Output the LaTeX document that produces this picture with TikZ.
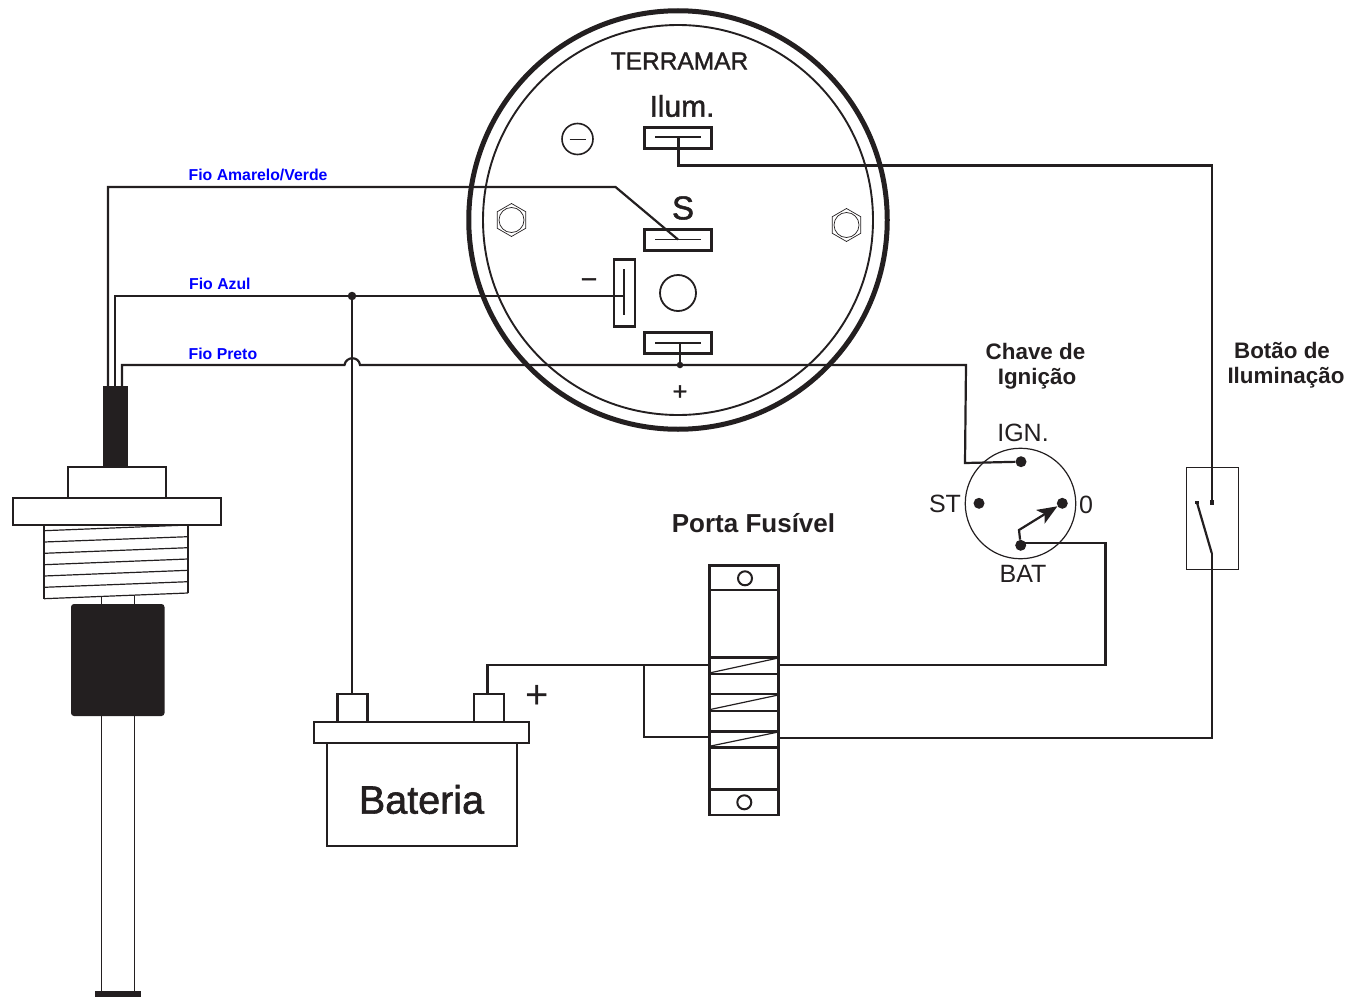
\documentclass[tikz,border=0pt]{standalone}
\usepackage{xcolor}
\usepackage{fontspec}
\setmainfont{Liberation Sans}
\newfontfamily\heavyfont[FakeBold=1.5]{Liberation Sans}
\usetikzlibrary{shapes, arrows.meta, calc}
\definecolor{ink}{HTML}{231F20}
\newcommand{\sz}[1]{\fontsize{#1}{#1}\selectfont}

\begin{document}
\begin{tikzpicture}[x=1pt, y=-1pt, ink,
    wire/.style={line width=2.2pt},
    thinline/.style={line width=1.2pt},
    terminal/.style={draw, rectangle, line width=2.2pt, minimum width=67pt, minimum height=21pt, inner sep=0pt},
    blade/.style={line width=1.8pt},
    dotnode/.style={circle, fill=ink, inner sep=0pt, minimum size=#1},
    hexnut/.style={draw, regular polygon, regular polygon sides=6, shape border rotate=30, line width=0.7pt, minimum size=33pt, inner sep=0pt},
    hole/.style={draw, circle, inner sep=0pt, minimum size=#1},
    bluelabel/.style={blue, font=\sz{15.8}\bfseries, anchor=base west, inner sep=0pt},
    title/.style={font=\sz{22.4}\bfseries, inner sep=0pt},
    pinlabel/.style={font=\sz{25}, inner sep=0pt},
    post/.style={draw, rectangle, line width=2.2pt, minimum width=30pt, minimum height=28pt, inner sep=0pt},
    fuseclip/.style={line width=2.4pt}
  ]

  \useasboundingbox (0,0) rectangle (1349,998);

  % gauge body
  \node[hole=418.5pt, line width=5pt] (ring) at (678,220) {};
  \node[hole=390pt, line width=1.9pt] (face) at (678,220) {};
  \node[font=\heavyfont\sz{24.5}, inner sep=0pt] (brand) at (679.5,61) {TERRAMAR};
  \node[font=\heavyfont\sz{30}, inner sep=0pt] (ilumlabel) at (682,106) {Ilum.};
  \node[font=\heavyfont\sz{33}, inner sep=0pt] (slabel) at (683,208) {S};
  \node[font=\heavyfont\sz{25}, inner sep=0pt] (minuslabel) at (589,282) {–};
  \node[font=\heavyfont\sz{25}, inner sep=0pt] (pluslabel) at (680,392.5) {+};

  % holes and nuts
  \node[hole=31pt, line width=1.6pt] (minushole) at (577.5,139) {};
  \draw[line width=0.8pt] ($ (minushole) + (-8,0) $) -- ($ (minushole) + (8,0) $);
  \node[hole=36pt, line width=1.8pt] (centerhole) at (678,293) {};
  \node[hexnut] (leftnut) at (511.5,220) {};
  \node[hole=25pt, line width=0.7pt] (leftnutin) at (511.5,220) {};
  \node[hexnut] (rightnut) at (846.5,225) {};
  \node[hole=25pt, line width=0.7pt] (rightnutin) at (846.5,225) {};

  % terminals
  \node[terminal] (ilum) at (678,138) {};
  \node[terminal] (sterm) at (678,240) {};
  \node[terminal] (plus) at (678,343) {};
  \node[terminal, minimum width=21pt, minimum height=67pt] (minus) at (624.7,293) {};
  \draw[blade] (655,137) -- (701,137);
  \draw[blade] (655,239.5) -- (701,239.5);
  \draw[blade] (655,343) -- (701,343);
  \draw[blade] (624,269) -- (624,315);

  % sensor
  \draw[draw=none, fill=ink] (103,386) rectangle (128,467);
  \draw[thinline] (68,498) rectangle (166,467);
  \draw[thinline] (13,498) rectangle (221,525);
  \draw[thinline] (44,525) -- (44,598.7);
  \draw[thinline] (188,525) -- (188,593);
  \draw[thinline] (44,530.7) -- (188,525);
  \draw[thinline] (44,542) -- (188,536.7);
  \draw[thinline] (44,553.3) -- (188,547.7);
  \draw[thinline] (44,564.7) -- (188,559);
  \draw[thinline] (44,576) -- (188,570.3);
  \draw[thinline] (44,587.3) -- (188,581.7);
  \draw[thinline] (44,598.7) -- (188,593);
  \draw[thinline] (101.5,596) -- (101.5,992);
  \draw[thinline] (134.5,595) -- (134.5,992);
  \draw[draw=none, fill=ink, rounded corners=3pt] (71,604) rectangle (164.5,716);
  \draw[draw=none, fill=ink] (95,991) rectangle (141,996.7);

  % battery
  \node[post] (negpost) at (352.5,708) {};
  \node[post] (pospost) at (489,708) {};
  \draw[wire] (314,722) rectangle (529,743.3);
  \draw[wire] (327,743.3) rectangle (517.3,845.7);
  \node[font=\heavyfont\sz{39.5}, inner sep=0pt] (batlabel) at (421.5,799.5) {Bateria};
  \node[font=\sz{40}, inner sep=0pt] (batplus) at (536.7,697) {+};

  % fuse holder
  \draw[line width=2.6pt] (709.3,565.3) rectangle (778.3,815);
  \draw[fuseclip] (709.3,589.7) -- (778.3,589.7);
  \draw[fuseclip] (709.3,789.3) -- (778.3,789.3);
  \node[hole=14pt, line width=2pt] (topscrew) at (745,578.3) {};
  \node[hole=14pt, line width=2pt] (botscrew) at (744.3,802.3) {};
  \draw[fuseclip] (709.3,657.3) rectangle (778.3,674);
  \draw[fuseclip] (709.3,694) rectangle (778.3,710.7);
  \draw[fuseclip] (709.3,731.3) rectangle (778.3,747.3);
  \draw[thinline] (709.3,673) -- (778.3,658);
  \draw[thinline] (709.3,709.7) -- (778.3,695);
  \draw[thinline] (709.3,746.3) -- (778.3,732);
  \node[font=\sz{26}\bfseries, inner sep=0pt] (fuselabel) at (753.5,523) {Porta Fusível};

  % ignition key
  \node[hole=110.5pt, line width=1.2pt] (key) at (1020.5,503.5) {};
  \node[dotnode=11pt] (ign) at (1021,461.7) {};
  \node[dotnode=11pt] (st) at (979,503.3) {};
  \node[dotnode=11pt] (off) at (1062.3,503.3) {};
  \node[dotnode=11pt] (bat) at (1020.7,545.3) {};
  \coordinate (elbow) at (1019,530);
  \draw[wire, -{Stealth[length=20pt, width=16pt, inset=5pt]}] (bat) -- (elbow) -- (off);
  \node[pinlabel] (ignlabel) at (1023,433) {IGN.};
  \node[pinlabel] (stlabel) at (945,503.5) {ST};
  \node[pinlabel] (offlabel) at (1086,505) {0};
  \node[pinlabel] (batname) at (1023,573.5) {BAT};
  \node[title] (keytitle) at (1035.5,351) {Chave de};
  \node[title] (keytitleb) at (1037,378.5) {Ignição};

  % light switch
  \draw[line width=0.9pt] (1186.7,467.3) rectangle (1238.3,569.7);
  \coordinate (swturn) at (1212.3,165.5);
  \coordinate (swfix) at (1212.3,503);
  \coordinate (swpivot) at (1211.7,553);
  \coordinate (swtip) at (1196.7,501.7);
  \draw[wire] (swpivot) -- (swtip);
  \draw[draw=none, fill=ink] (1210,499.5) rectangle (1214.4,504.5);
  \draw[draw=none, fill=ink] (1195,500.5) rectangle (1199,504);
  \node[title] (swtitle) at (1282,350) {Botão de};
  \node[title] (swtitleb) at (1286,377.5) {Iluminação};

  % wires
  \coordinate (ilumpin) at (678.5,137);
  \coordinate (ilumcorner) at (678.5,165.5);
  \coordinate (spin) at (678,239.5);
  \coordinate (sbend) at (615.5,187);
  \coordinate (yellowtop) at (108,187);
  \coordinate (yellowend) at (108,386);
  \coordinate (minuspin) at (624,296);
  \coordinate (blueend) at (115,386);
  \coordinate (blacktop) at (122,365);
  \coordinate (blackend) at (122,386);
  \coordinate (hopr) at (360,365);
  \coordinate (hopl) at (344.5,365);
  \coordinate (pluspin) at (680,343);
  \coordinate (ignturn) at (966,365);
  \coordinate (ignleft) at (965,463);
  \coordinate (batright) at (1105.5,543);
  \coordinate (fusetop) at (778.3,665.3);
  \coordinate (fuseleft) at (709.3,665.3);
  \coordinate (fusebot) at (778.3,738.3);
  \coordinate (fuselow) at (709.3,736.7);
  \coordinate (branch) at (644.3,665.3);
  \node[dotnode=8.5pt] (blueknot) at (352,296) {};
  \node[dotnode=6.5pt] (plusknot) at (680,365) {};

  \draw[wire] (ilumpin) -- (ilumcorner) -- (swturn) -- (swfix);
  \draw[wire] (spin) -- (sbend) -- (yellowtop) -- (yellowend);
  \draw[wire] (minuspin) -- (blueknot) -- (115,296) -- (blueend);
  \draw[wire] (blueknot) -- (negpost.north -| blueknot);
  \draw[wire] (blackend) -- (blacktop) -- (hopl) .. controls (346,356) and (359,356) .. (hopr) -- (ignturn) -- (ignleft) -- (ign);
  \draw[wire] (pluspin) -- (plusknot);
  \draw[wire] (pospost.north -| 487.5,0) |- (fuseleft);
  \draw[wire] (branch) |- (fuselow);
  \draw[wire] (bat.center) -- (1020.7,543) -- (batright) |- (fusetop);
  \draw[wire] (fusebot) -| (swpivot);

  % wire names
  \node[bluelabel] (yellowname) at (188.5,180) {Fio Amarelo/Verde};
  \node[bluelabel] (bluename) at (189,289) {Fio Azul};
  \node[bluelabel] (blackname) at (188.5,359) {Fio Preto};

\end{tikzpicture}
\end{document}
